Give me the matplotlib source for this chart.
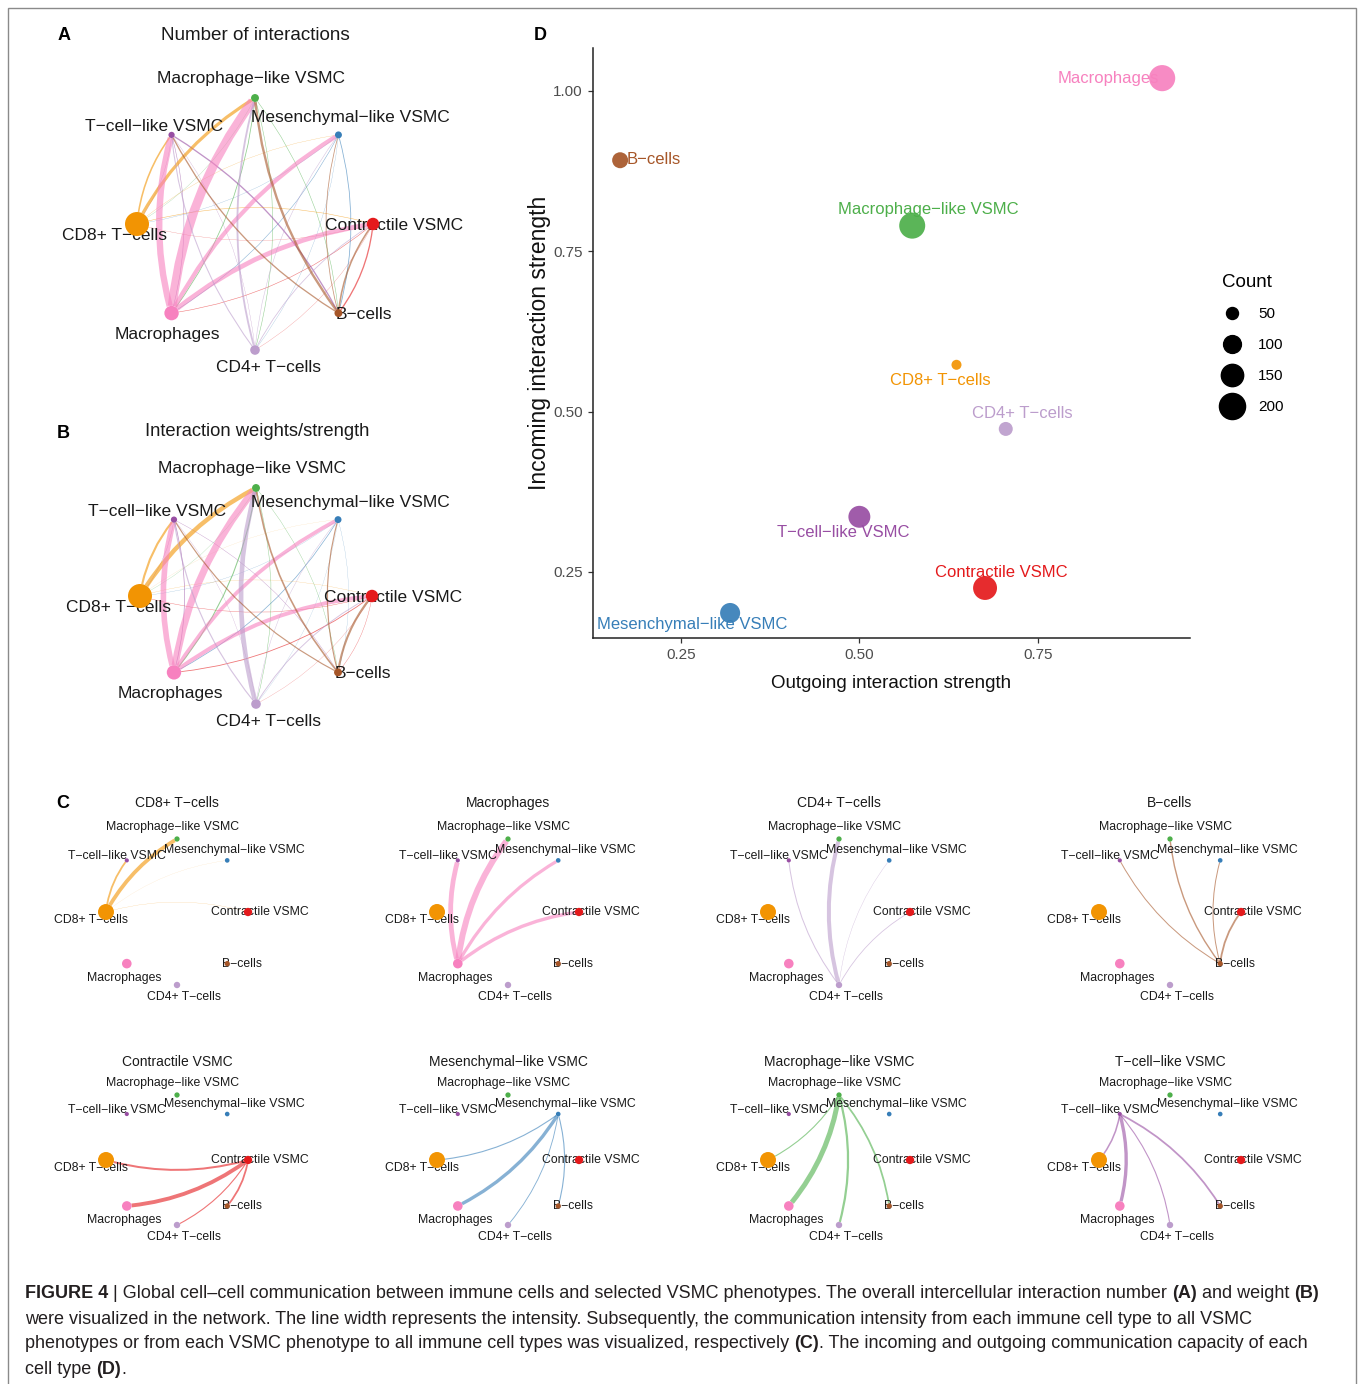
import matplotlib
matplotlib.use("Agg")
import matplotlib.pyplot as plt
import numpy as np
from matplotlib.patches import FancyArrowPatch, Rectangle
from matplotlib.lines import Line2D

W, H = 1358, 1384
SANS = ['Liberation Sans', 'DejaVu Sans']
plt.rcParams['font.family'] = SANS

# cell groups, in the order CellChat puts them round the circle
cell_types = ["Contractile VSMC", "Mesenchymal\u2212like VSMC", "Macrophage\u2212like VSMC",
              "T\u2212cell\u2212like VSMC", "CD8+ T\u2212cells", "Macrophages",
              "CD4+ T\u2212cells", "B\u2212cells"]
palette = ['#E41A1C', '#377EB8', '#4DAF4A', '#984EA3', '#F29403', '#F781BF', '#BC9DCC', '#A65628']
group_size = [520, 290, 330, 260, 1000, 600, 400, 330]
vsmc = [0, 1, 2, 3]
immune = [4, 5, 6, 7]

# rows = sender, cols = receiver
n_interactions = [
    [0, 0, 0, 0, 1, 2, 1, 5],
    [0, 0, 0, 0, 1, 2, 1, 3],
    [0, 0, 0, 0, 1, 3, 2, 2],
    [0, 0, 0, 0, 1, 2, 1, 5],
    [2, 1, 12, 6, 0, 0, 0, 0],
    [18, 16, 34, 24, 0, 0, 0, 0],
    [3, 2, 7, 4, 0, 0, 0, 0],
    [6, 3, 9, 5, 0, 0, 0, 0],
]
strength = [
    [0, 0, 0, 0, .018, .035, .010, .016],
    [0, 0, 0, 0, .010, .030, .008, .010],
    [0, 0, 0, 0, .010, .045, .020, .016],
    [0, 0, 0, 0, .014, .030, .010, .016],
    [.010, .005, .19, .09, 0, 0, 0, 0],
    [.17, .16, .30, .24, 0, 0, 0, 0],
    [.04, .02, .20, .05, 0, 0, 0, 0],
    [.09, .05, .07, .05, 0, 0, 0, 0],
]

# panel D
outgoing = [0.676, 0.319, 0.574, 0.500, 0.636, 0.924, 0.705, 0.165]
incoming = [0.225, 0.186, 0.790, 0.336, 0.573, 1.020, 0.473, 0.892]
link_count = [170, 123, 198, 145, 37, 200, 65, 82]
count_breaks = [50, 100, 150, 200]

caption = [
    [("FIGURE 4", True), (" | Global cell\u2013cell communication between immune cells and selected VSMC phenotypes. "
      "The overall intercellular interaction number ", False), ("(A)", True), (" and weight ", False), ("(B)", True)],
    [("were visualized in the network. The line width represents the intensity. Subsequently, the communication "
      "intensity from each immune cell type to all VSMC", False)],
    [("phenotypes or from each VSMC phenotype to all immune cell types was visualized, respectively ", False),
     ("(C)", True), (". The incoming and outgoing communication capacity of each", False)],
    [("cell type ", False), ("(D)", True), (".", False)],
]

# label offsets in pixels (x right, y down)
big_offs = [(21, 1), (12, -17), (-4, -20), (-17, -8), (-22, 12), (-4, 21), (13, 18), (25, 1)]
small_offs = [(12, 0), (7, -10), (-4, -12), (-10, -4), (-15, 8), (-3, 14), (7, 12), (15, 0)]
# panel D label placement: (dx, dy up, ha)
d_offs = [(16, 15, 'center'), (-38, -12, 'center'), (16, 16, 'center'), (-16, -16, 'center'),
          (-16, -16, 'center'), (-3, 0, 'right'), (17, 15, 'center'), (6, 1, 'left')]

fig = plt.figure(figsize=(W / 100, H / 100), dpi=100)


def px_rect(l, t, w, h):
    return [l / W, 1 - (t + h) / H, w / W, h / H]


def ftext(x, y, s, **kw):
    return fig.text(x / W, 1 - y / H, s, **kw)


def net_axes(cx, cy, rx, ry, k=1.6):
    ax = fig.add_axes(px_rect(cx - k * rx, cy - k * ry, 2 * k * rx, 2 * k * ry))
    ax.set_xlim(-k, k)
    ax.set_ylim(-k, k)
    ax.axis('off')
    return ax


ang = np.arange(len(cell_types)) * 2 * np.pi / len(cell_types)
nx, ny = np.cos(ang), np.sin(ang)


def circle_plot(ax, mat, senders, wmax, lw_max, r_max, fs, offs, alpha=0.6):
    mat = np.asarray(mat, float)
    radius = np.maximum(r_max * np.asarray(group_size) / max(group_size), 1.6)
    for i in senders:
        for j in range(len(cell_types)):
            w = mat[i, j]
            if w <= 0:
                continue
            e = FancyArrowPatch((nx[i], ny[i]), (nx[j], ny[j]),
                                connectionstyle='arc3,rad=-0.14', arrowstyle='-',
                                lw=w / wmax * lw_max * 0.72, color=palette[i], alpha=alpha,
                                shrinkA=radius[i] * 0.72, shrinkB=radius[j] * 0.72, zorder=1)
            e.set_capstyle('butt')
            ax.add_patch(e)
    for k, name in enumerate(cell_types):
        ax.annotate(name, (nx[k], ny[k]), xytext=(offs[k][0], -offs[k][1]),
                    textcoords='offset pixels', ha='center', va='center', fontsize=fs,
                    color='#1a1a1a', zorder=2, annotation_clip=False)
    ax.scatter(nx, ny, s=(1.44 * radius) ** 2, c=palette, edgecolors='none', zorder=3, clip_on=False)


# frame
fig.patches.append(Rectangle((8 / W, -0.01), 1348 / W, 1 - 8 / H + 0.01, transform=fig.transFigure,
                             fill=False, ec='#8a8a8a', lw=1))

# A
ftext(64, 36, "A", fontsize=13, fontweight='bold', ha='center', va='center')
ftext(255, 35, "Number of interactions", fontsize=13.6, ha='center', va='center', color='#1a1a1a')
ax = net_axes(255, 224, 118, 126)
circle_plot(ax, n_interactions, range(8), np.max(n_interactions), 9, 12, 12.5, big_offs)

# B
ftext(63, 433, "B", fontsize=13, fontweight='bold', ha='center', va='center')
ftext(257, 432, "Interaction weights/strength", fontsize=13.2, ha='center', va='center', color='#1a1a1a')
ax = net_axes(256, 596, 116, 108)
circle_plot(ax, strength, range(8), np.max(strength), 7, 12, 12.5, big_offs)

# C: immune senders on the first row, VSMC senders on the second
ftext(63, 803, "C", fontsize=13, fontweight='bold', ha='center', va='center')
strength_arr = np.asarray(strength)
for row, senders in enumerate([immune, vsmc]):
    wmax = strength_arr[senders].max()
    cy, ry, ty = (912, 73, 803) if row == 0 else (1160, 65, 1062)
    for col, src in enumerate(senders):
        cx = 177 + 331 * col
        ftext(cx, ty, cell_types[src], fontsize=10, ha='center', va='center', color='#1a1a1a')
        ax = net_axes(cx, cy, 71, ry)
        circle_plot(ax, strength, [src], wmax, 6 if row == 0 else 5, 8, 8.8, small_offs)

# D
ftext(540, 36, "D", fontsize=13, fontweight='bold', ha='center', va='center')
axd = fig.add_axes(px_rect(593, 48, 597, 590))


def count_size(v):
    r = np.sqrt(np.asarray(v, float)) - 1.07
    return (1.44 * r) ** 2


axd.scatter(outgoing, incoming, s=count_size(link_count), c=palette, edgecolors='none', alpha=0.92, zorder=3)
for k, name in enumerate(cell_types):
    dx, dy, ha = d_offs[k]
    axd.annotate(name, (outgoing[k], incoming[k]), xytext=(dx, dy), textcoords='offset pixels',
                 ha=ha, va='center', fontsize=12, color=palette[k], zorder=4)
axd.set_xlim(0.127, 0.963)
axd.set_ylim(0.147, 1.067)
axd.set_xticks([0.25, 0.50, 0.75], ['0.25', '0.50', '0.75'])
axd.set_yticks([0.25, 0.50, 0.75, 1.00], ['0.25', '0.50', '0.75', '1.00'])
for s in ['top', 'right']:
    axd.spines[s].set_visible(False)
for s in ['left', 'bottom']:
    axd.spines[s].set_linewidth(1.1)
    axd.spines[s].set_color('#222222')
axd.tick_params(length=3.5, width=0.9, pad=4, color='#333333', labelsize=11, labelcolor='#4d4d4d')
axd.set_xlabel("Outgoing interaction strength", fontsize=13.5, labelpad=9, color='#111111')
axd.set_ylabel("Incoming interaction strength", fontsize=16.5, labelpad=1.5, color='#111111')

handles = [Line2D([], [], ls='none', marker='o', color='black', markersize=np.sqrt(count_size(b)))
           for b in count_breaks]
leg = axd.legend(handles, [str(b) for b in count_breaks], title="Count", loc='upper left',
                 bbox_to_anchor=((1214 - 593) / 597, (638 - 266) / 590), frameon=False,
                 labelspacing=1.1, handletextpad=1.0, handlelength=1.4, borderpad=0,
                 prop={'size': 11})
leg.get_title().set_fontsize(13.5)
leg._legend_box.align = 'left'

# caption
renderer = fig.canvas.get_renderer()
for n, parts in enumerate(caption):
    x = 25
    y = 1294 + 25 * n
    for s, bold in parts:
        t = ftext(x, y, s, fontsize=13.0, fontweight='bold' if bold else 'normal',
                  ha='left', va='center', color='#231f20')
        x += t.get_window_extent(renderer=renderer).width

fig.savefig("out.png", dpi=100)
